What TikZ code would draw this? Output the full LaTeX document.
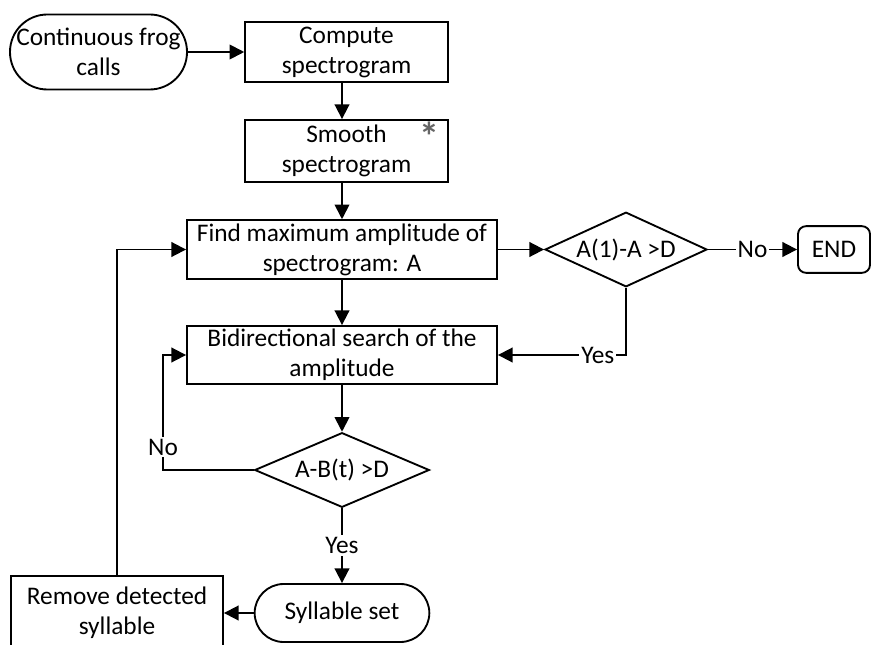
\documentclass[tikz,border=0pt]{standalone}
\usepackage{fontspec}
\setmainfont{Carlito}
\usetikzlibrary{shapes.geometric,arrows.meta,positioning,calc}

\begin{document}
\begin{tikzpicture}[
  x=0.75pt, y=-0.75pt,
  font=\fontsize{19pt}{22.5pt}\selectfont,
  >={Triangle[length=11pt, width=11pt]},
  procbox/.style={rectangle, draw=black, line width=1.4pt, fill=white,
                  align=center, inner sep=1pt},
  termbox/.style={rectangle, draw=black, line width=1.4pt, fill=white,
                  align=center, inner sep=0pt},
  decbox/.style={diamond, draw=black, line width=1.4pt, fill=white, inner sep=0pt},
  lbl/.style={fill=white, inner sep=1.5pt},
  flow/.style={->, line width=1.4pt, draw=black},
]
\useasboundingbox (0,0) rectangle (877,645);

% --- nodes ---
\node[termbox, rounded corners=28pt, minimum width=132.75pt, minimum height=56.25pt]
  (start) at (98.5,52) {Continuous frog\\calls};
\node[procbox, minimum width=152pt, minimum height=45pt]
  (compute) at (346.5,52) {Compute\\spectrogram};
\node[procbox, minimum width=152pt, minimum height=46.5pt]
  (smooth) at (346.5,151) {Smooth\\spectrogram};
\node[text=black!60, font=\fontsize{30pt}{30pt}\selectfont\bfseries, inner sep=0pt]
  (star) at (429,136) {*};
\node[procbox, minimum width=232.5pt, minimum height=44pt]
  (find) at (342,249.5) {Find maximum amplitude of\\spectrogram: A};
\node[decbox, minimum width=121.5pt, minimum height=56pt]
  (dec1) at (626,249.5) {\makebox[0pt]{A(1)-A >D}};
\node[termbox, rounded corners=6pt, minimum width=54pt, minimum height=35pt]
  (stop) at (834,249.5) {END};
\node[procbox, minimum width=232.5pt, minimum height=43.5pt]
  (bidir) at (342,355) {Bidirectional search of the\\amplitude};
\node[decbox, minimum width=131pt, minimum height=56pt]
  (dec2) at (342,470) {\makebox[0pt]{A-B(t) >D}};
\node[termbox, rounded corners=21.75pt, minimum width=131pt, minimum height=43.5pt]
  (syll) at (342,613) {Syllable set};
\node[procbox, minimum width=159pt, minimum height=55.5pt]
  (remove) at (117,613) {Remove detected\\syllable};
\coordinate (noturn) at (163,355);

% --- flows ---
\draw[flow] (start.east) -- (compute.west);
\draw[flow] (compute.south -| find.north) -- (smooth.north -| find.north);
\draw[flow] (smooth.south -| find.north) -- (find.north);
\draw[flow] (find.east) -- (dec1.west);
\draw[flow] (dec1.east) -- node[lbl]{No} (stop.west);
\draw[flow] (dec1.south) |- node[lbl, pos=0.61]{Yes} (bidir.east);
\draw[flow] (find.south) -- (bidir.north);
\draw[flow] (bidir.south) -- (dec2.north);
\draw[flow] (dec2.west) -| node[lbl, pos=0.6]{No} (noturn) -- (bidir.west);
\draw[flow] (dec2.south) -- node[lbl]{Yes} (syll.north);
\draw[flow] (syll.west) -- (remove.east);
\draw[flow] (remove.north) |- (find.west);

\end{tikzpicture}
\end{document}
